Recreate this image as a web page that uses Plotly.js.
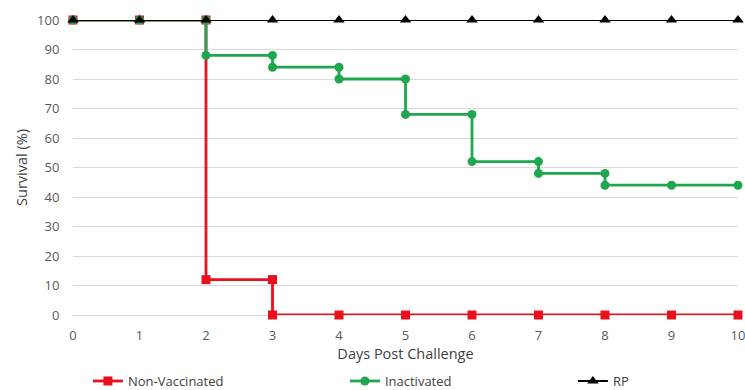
<!DOCTYPE html>
<html>
<head>
<meta charset="utf-8">
<script src="https://cdn.plot.ly/plotly-3.0.1.min.js"></script>
<style>html,body{margin:0;padding:0;background:#fff}#chart{width:745px;height:390px}</style>
</head>
<body>
<div id="chart"></div>
<script>
// Kaplan-Meier style step data (points at each day, before and after each drop)
const nonVacX = [0, 1, 2, 2, 3, 3, 4, 5, 6, 7, 8, 9, 10];
const nonVacY = [100, 100, 100, 12, 12, 0, 0, 0, 0, 0, 0, 0, 0];
const inactX = [0, 1, 2, 2, 3, 3, 4, 4, 5, 5, 6, 6, 7, 7, 8, 8, 9, 10];
const inactY = [100, 100, 100, 88, 88, 84, 84, 80, 80, 68, 68, 52, 52, 48, 48, 44, 44, 44];
const rpX = [0, 1, 2, 3, 4, 5, 6, 7, 8, 9, 10];
const rpY = [100, 100, 100, 100, 100, 100, 100, 100, 100, 100, 100];
const seriesNames = ["Non-Vaccinated", "Inactivated", "RP"];
const xTicks = [0, 1, 2, 3, 4, 5, 6, 7, 8, 9, 10];
const yTicks = [0, 10, 20, 30, 40, 50, 60, 70, 80, 90, 100];

const font = "Open Sans, Liberation Sans, sans-serif";
const traces = [
  {x: nonVacX, y: nonVacY, name: seriesNames[0], mode: "lines+markers", legend: "legend",
   line: {color: "#e8101c", width: 2.8}, marker: {symbol: "square", size: 9, color: "#e8101c"}, cliponaxis: false},
  {x: inactX, y: inactY, name: seriesNames[1], mode: "lines+markers", legend: "legend2",
   line: {color: "#1fa64f", width: 2.8}, marker: {symbol: "circle", size: 9, color: "#1fa64f"}, cliponaxis: false},
  {x: rpX, y: rpY, name: seriesNames[2], mode: "lines+markers", legend: "legend3",
   line: {color: "#000000", width: 2}, marker: {symbol: "triangle-up", size: 10, color: "#000000"}, cliponaxis: false}
];
const legBase = {orientation: "h", xanchor: "left", xref: "container", yref: "container",
                 y: 0.023, yanchor: "middle",
                 font: {size: 13, color: "#404040"}, itemclick: false, bgcolor: "rgba(0,0,0,0)"};
const layout = {
  width: 745, height: 390,
  margin: {l: 73, r: 7, t: 20, b: 75, autoexpand: false},
  paper_bgcolor: "#fff", plot_bgcolor: "#fff",
  font: {family: font, size: 13, color: "#595959"},
  showlegend: true,
  legend: Object.assign({}, legBase, {x: 0.118}),
  legend2: Object.assign({}, legBase, {x: 0.463}),
  legend3: Object.assign({}, legBase, {x: 0.769}),
  xaxis: {range: [0, 10], tickvals: xTicks, ticktext: xTicks.map(String), showgrid: false,
          zeroline: false, showline: false, ticks: "outside", ticklen: 8, tickcolor: "rgba(0,0,0,0)",
          tickfont: {size: 13, color: "#595959"}, ticklabeloverflow: "allow", automargin: false,
          title: {text: "Days Post Challenge", font: {size: 14.5, color: "#404040"}, standoff: 4}},
  yaxis: {range: [0, 100], tickvals: yTicks, ticktext: yTicks.map(String), showgrid: true,
          gridcolor: "#d9d9d9", gridwidth: 1, zeroline: true, zerolinecolor: "#d9d9d9",
          showline: false, ticks: "outside", ticklen: 10, tickcolor: "rgba(0,0,0,0)",
          tickfont: {size: 13, color: "#595959"}, automargin: false,
          title: {text: "Survival (%)", font: {size: 14.5, color: "#404040"}, standoff: 6}}
};
Plotly.newPlot("chart", traces, layout, {staticPlot: true, displayModeBar: false});
</script>
</body>
</html>
